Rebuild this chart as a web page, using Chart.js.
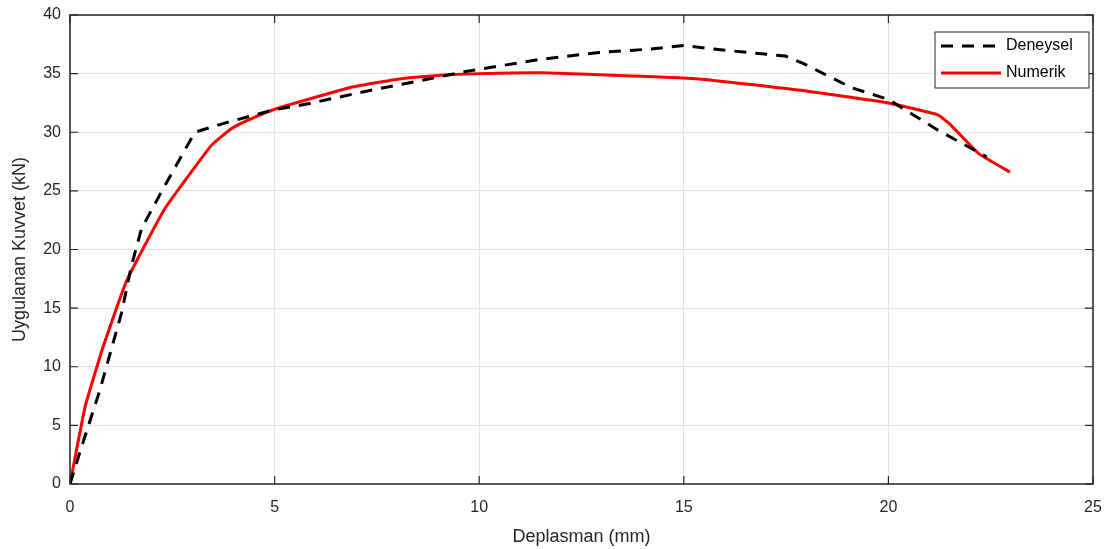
<!DOCTYPE html>
<html>
<head>
<meta charset="utf-8">
<script src="https://cdn.jsdelivr.net/npm/chart.js@4/dist/chart.umd.min.js"></script>
<style>
  html, body { margin: 0; padding: 0; background: #fff; }
  #wrap { width: 1113px; height: 549px; position: relative; }
</style>
</head>
<body>
<div id="wrap"><canvas id="chart" width="1113" height="549"></canvas></div>
<script>
// Deneysel (deney verisi) — okunan noktalar
const deneyselX = [0, 0.24, 0.73, 1.26, 1.5, 1.75, 2.2, 2.6, 3.05, 3.8, 4.96, 5.85, 7.24, 8.7, 9.7, 11.46, 12.93, 14.2, 15.0, 15.7, 17.48, 17.9, 19.1, 20.0, 21.2, 22.4];
const deneyselY = [0, 2.7, 8.0, 14.6, 18.6, 21.8, 24.7, 27.2, 30.0, 30.8, 31.9, 32.45, 33.5, 34.5, 35.2, 36.2, 36.8, 37.1, 37.4, 37.1, 36.5, 35.9, 33.8, 32.8, 30.2, 27.9];

// Numerik (sayısal model)
const numerikX = [0, 0.37, 0.8, 1.38, 2.32, 3.46, 3.9, 4.27, 4.95, 5.61, 6.83, 8.05, 9.27, 10.0, 11.54, 13.73, 15.37, 17.8, 20.0, 21.2, 21.5, 22.2, 22.97];
const numerikY = [0, 6.6, 11.6, 17.3, 23.5, 28.9, 30.2, 30.9, 31.9, 32.6, 33.8, 34.55, 34.9, 35.0, 35.07, 34.8, 34.55, 33.6, 32.5, 31.5, 30.7, 28.2, 26.6];

const xTicks = [0, 5, 10, 15, 20, 25];
const yTicks = [0, 5, 10, 15, 20, 25, 30, 35, 40];

const AXIS_COLOR = '#262626';
const FONT = '"Liberation Sans", Arial, sans-serif';

const toPoints = (xs, ys) => xs.map((x, i) => ({ x, y: ys[i] }));

// ── Çerçeve, içe dönük tick'ler ve lejant ──────────────────────────────────

const boxPlugin = {
  id: 'matlabBox',
  afterDraw(chart) {
    const { ctx, chartArea: a, scales } = chart;
    ctx.save();
    ctx.strokeStyle = AXIS_COLOR;
    ctx.lineWidth = 1.5;
    ctx.strokeRect(a.left, a.top, a.right - a.left, a.bottom - a.top);

    const tl = 8;
    ctx.lineWidth = 1.2;
    ctx.beginPath();
    xTicks.forEach(v => {
      const px = scales.x.getPixelForValue(v);
      ctx.moveTo(px, a.bottom); ctx.lineTo(px, a.bottom - tl);
      ctx.moveTo(px, a.top); ctx.lineTo(px, a.top + tl);
    });
    yTicks.forEach(v => {
      const py = scales.y.getPixelForValue(v);
      ctx.moveTo(a.left, py); ctx.lineTo(a.left + tl, py);
      ctx.moveTo(a.right, py); ctx.lineTo(a.right - tl, py);
    });
    ctx.stroke();

    // Lejant kutusu
    const bw = 154, bh = 56;
    const bx = a.right - 158, by = a.top + 17;
    ctx.fillStyle = '#fff';
    ctx.fillRect(bx, by, bw, bh);
    ctx.strokeStyle = '#262626';
    ctx.lineWidth = 1;
    ctx.strokeRect(bx, by, bw, bh);

    const items = chart.data.datasets;
    items.forEach((ds, i) => {
      const ly = by + 14 + i * 27;
      ctx.beginPath();
      ctx.strokeStyle = ds.borderColor;
      ctx.lineWidth = 3;
      ctx.setLineDash(ds.borderDash || []);
      ctx.moveTo(bx + 6, ly);
      ctx.lineTo(bx + 66, ly);
      ctx.stroke();
      ctx.setLineDash([]);
      ctx.fillStyle = '#000';
      ctx.font = '16px ' + FONT;
      ctx.textBaseline = 'middle';
      ctx.fillText(ds.label, bx + 71, ly);
    });
    ctx.restore();
  }
};

new Chart(document.getElementById('chart'), {
  type: 'line',
  data: {
    datasets: [
      {
        label: 'Deneysel',
        data: toPoints(deneyselX, deneyselY),
        borderColor: '#000000',
        borderWidth: 3,
        borderDash: [12, 9],
        pointRadius: 0,
        tension: 0,
      },
      {
        label: 'Numerik',
        data: toPoints(numerikX, numerikY),
        borderColor: '#ff0000',
        borderWidth: 3,
        pointRadius: 0,
        tension: 0.12,
      },
    ],
  },
  options: {
    responsive: false,
    animation: false,
    layout: { padding: { left: 0, right: 20, top: 15, bottom: 0 } },
    plugins: {
      legend: { display: false },
      tooltip: { enabled: false },
    },
    scales: {
      x: {
        type: 'linear',
        min: 0, max: 25,
        afterBuildTicks: s => { s.ticks = xTicks.map(v => ({ value: v })); },
        afterFit: s => { s.height = 65; s.paddingLeft = 0; s.paddingRight = 0; },
        grid: { color: '#e3e3e3', drawTicks: false },
        border: { display: false },
        ticks: { color: AXIS_COLOR, font: { family: FONT, size: 16 }, padding: 14 },
        title: { display: true, text: 'Deplasman (mm)', color: AXIS_COLOR, font: { family: FONT, size: 18 }, padding: { top: 4, bottom: 1 } },
      },
      y: {
        min: 0, max: 40,
        afterBuildTicks: s => { s.ticks = yTicks.map(v => ({ value: v })); },
        afterFit: s => { s.width = 70; s.paddingTop = 0; s.paddingBottom = 0; },
        grid: { color: '#e3e3e3', drawTicks: false },
        border: { display: false },
        ticks: { color: AXIS_COLOR, font: { family: FONT, size: 16 }, padding: 9 },
        title: { display: true, text: 'Uygulanan Kuvvet (kN)', color: AXIS_COLOR, font: { family: FONT, size: 18 }, padding: { top: 9, bottom: 2 } },
      },
    },
  },
  plugins: [boxPlugin],
});
</script>
</body>
</html>
